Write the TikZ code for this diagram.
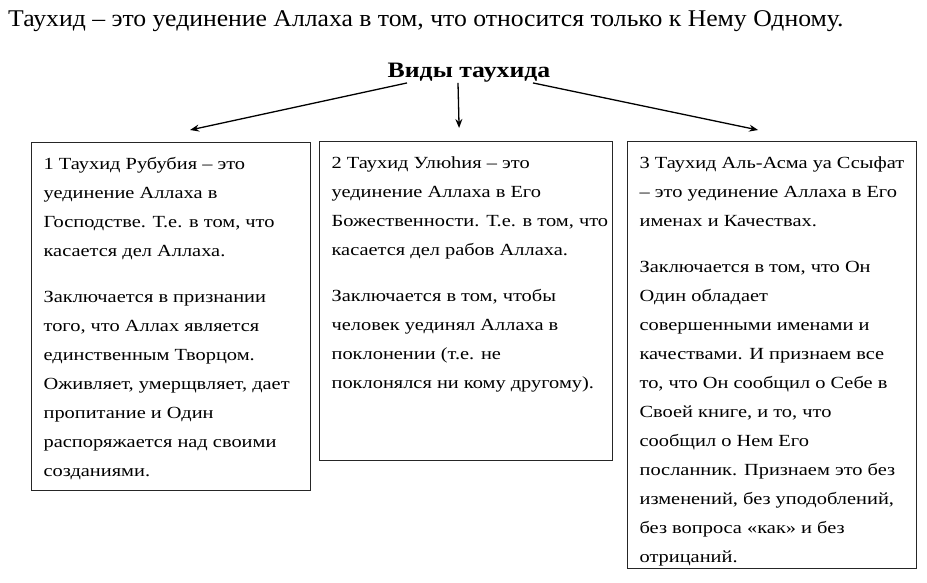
\documentclass[tikz,border=0pt]{standalone}
\usepackage{fontspec}
\setmainfont{Liberation Serif}
\newfontfamily\boxfont[FakeStretch=1.2]{Liberation Serif}
\newfontfamily\headfont[FakeStretch=1.07]{Liberation Serif}
\newfontfamily\vidyfont[FakeStretch=1.17]{Liberation Serif}
\usepackage{tikz}
\usetikzlibrary{positioning,arrows.meta}

\tikzset{
    vid/.style={draw=black!85, line width=1.2pt, inner xsep=12pt, inner ysep=15pt,
        anchor=north west, font=\boxfont\fontsize{17}{29}\selectfont},
    arr/.style={-{Stealth[length=9pt,width=7pt]}, line width=1.3pt}
}

\begin{document}
\begin{tikzpicture}[x=1pt, y=-1pt]
    \useasboundingbox[fill=white] (0,0) rectangle (927,583);

    \node[anchor=base west, inner sep=0pt, font=\headfont\fontsize{24}{26}\selectfont] (def) at (8,27)
        {Таухид – это уединение Аллаха в том, что относится только к Нему Одному.};
    \node[anchor=base, inner sep=0pt, font=\vidyfont\bfseries\fontsize{22}{24}\selectfont] (vidy) at (469,78)
        {Виды таухида};

    % три вида
    \node[vid] (rub) at (31,142) {\parbox[t][318pt][t]{255pt}{\raggedright
        1 Таухид Рубубия – это\\ уединение Аллаха в\\ Господстве. Т.е. в том, что\\ касается дел Аллаха.\\[17pt]
        Заключается в признании\\ того, что Аллах является\\ единственным Творцом.\\ Оживляет, умерщвляет, дает\\
        пропитание и Один\\ распоряжается над своими\\ созданиями.}};
    \node[vid] (ulu) at (319,141) {\parbox[t][289pt][t]{269pt}{\raggedright
        2 Таухид Улюhия – это\\ уединение Аллаха в Его\\ \mbox{Божественности. Т.е. в том, что}\\ касается дел рабов Аллаха.\\[17pt]
        Заключается в том, чтобы\\ человек уединял Аллаха в\\ поклонении (т.е. не\\ поклонялся ни кому другому).}};
    \node[vid] (asma) at (627,141) {\parbox[t][397pt][t]{265pt}{\raggedright
        3 Таухид Аль-Асма уа Ссыфат\\ – это уединение Аллаха в Его\\ именах и Качествах.\\[17pt]
        Заключается в том, что Он\\ Один обладает\\ совершенными именами и\\ качествами. И признаем все\\
        то, что Он сообщил о Себе в\\ Своей книге, и то, что\\ сообщил о Нем Его\\ посланник. Признаем это без\\
        изменений, без уподоблений,\\ без вопроса «как» и без\\ отрицаний.}};

    \draw[arr] ([xshift=-62pt]vidy.south) -- ([xshift=19pt,yshift=12pt]rub.north);
    \draw[arr] ([xshift=-11pt]vidy.south) -- ([xshift=-7pt,yshift=13pt]ulu.north);
    \draw[arr] ([xshift=64pt]vidy.south) -- ([xshift=-14pt,yshift=11pt]asma.north);
\end{tikzpicture}
\end{document}
